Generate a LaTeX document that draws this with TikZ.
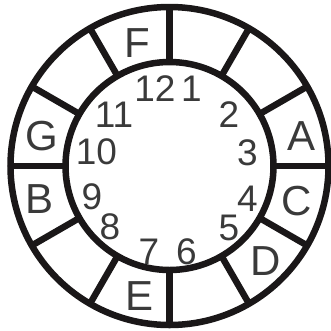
\documentclass[tikz,border=0pt]{standalone}
\usepackage{fontspec}
\setmainfont{Liberation Sans}
\usetikzlibrary{calc}
\definecolor{ringcol}{HTML}{1A1718}
\definecolor{txtcol}{HTML}{3A3A3A}
\begin{document}
\begin{tikzpicture}[x=1pt,y=-1pt,
  ring/.style={draw=ringcol,line width=6.5pt},
  spoke/.style={draw=ringcol,line width=6.5pt},
  num/.style={inner sep=0pt,text=txtcol,font=\fontsize{37}{37}\selectfont},
  let/.style={inner sep=0pt,text=txtcol,font=\fontsize{42}{42}\selectfont}]
\useasboundingbox (0,0) rectangle (331,330);
\coordinate (c) at (169.5,166);
\draw[ring] (c) circle[radius=159];
\draw[ring] (c) circle[radius=104];
\foreach \a in {0,30,...,330}{
  \draw[spoke] ($(c)+(\a:104)$) -- ($(c)+(\a:159)$);
}
% letters
\node[let] (F) at (137.5,43) {F};
\node[let] (A) at (301,136.5) {A};
\node[let] (G) at (41.5,136) {G};
\node[let] (B) at (40,199) {B};
\node[let] (C) at (297,201) {C};
\node[let] (D) at (266,261) {D};
\node[let] (E) at (140,296.5) {E};
% numbers
\node[num] (n12) at (155,88.7) {12};
\node[num] (n1) at (191.5,88.7) {1};
\node[num] (n2) at (229,115) {2};
\node[num] (n3) at (247.5,152.5) {3};
\node[num] (n4) at (247.5,198.5) {4};
\node[num] (n5) at (229,227.5) {5};
\node[num] (n6) at (186.5,251.5) {6};
\node[num] (n7) at (149,251.5) {7};
\node[num] (n8) at (110,226.5) {8};
\node[num] (n9) at (92,196.5) {9};
\node[num] (n10) at (96.5,151.5) {10};
\node[num] (n11) at (114,115) {11};
\end{tikzpicture}
\end{document}
